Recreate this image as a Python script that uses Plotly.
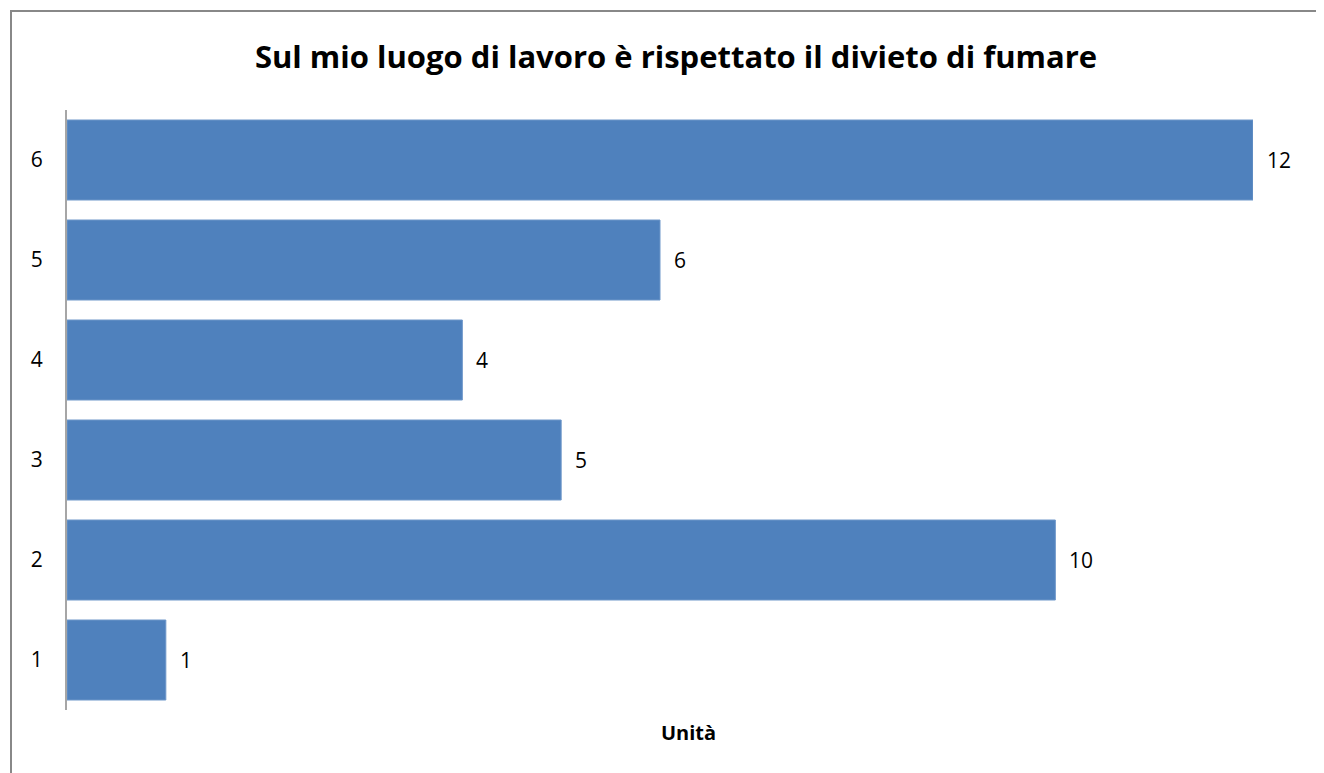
import plotly.graph_objects as go

categories = ["1", "2", "3", "4", "5", "6"]
values = [1, 10, 5, 4, 6, 12]
title_text = "Sul mio luogo di lavoro è rispettato il divieto di fumare"
x_title = "Unità"

OFF = 8  # default page body margin
W, H = 1324 - OFF, 773 - OFF
L, R, T, B = 67 - OFF, 71, 110 - OFF, 63
pw, ph = W - L - R, H - T - B

def px_x(p):
    return (p - OFF - L) / pw

def px_y(p):
    return (H - B - (p - OFF)) / ph

fig = go.Figure()
fig.add_trace(go.Bar(
    x=values, y=categories, orientation="h",
    marker=dict(color="#4F81BD", line=dict(color="#6E97C9", width=1)),
    width=0.8, hoverinfo="x+y",
))

for i, v in enumerate(values):
    fig.add_annotation(x=v, y=i, text=str(v), showarrow=False, xanchor="left",
                       xshift=12, font=dict(size=21, color="#000000", family="Open Sans"))

fig.add_annotation(x=px_x(688), y=px_y(732), xref="paper", yref="paper",
                   xanchor="center", yanchor="middle",
                   text="<b>" + x_title + "</b>", showarrow=False,
                   font=dict(size=20, color="#000000", family="Open Sans"))

fig.add_shape(type="rect", xref="paper", yref="paper",
              x0=px_x(11), y0=px_y(800), x1=px_x(1400), y1=px_y(11),
              line=dict(color="#888888", width=2), fillcolor="rgba(0,0,0,0)", layer="below")

fig.update_layout(
    width=W, height=H,
    margin=dict(l=L, r=R, t=T, b=B, pad=0),
    paper_bgcolor="white", plot_bgcolor="white",
    title=dict(text="<b>" + title_text + "</b>", x=(676 - OFF) / W, xanchor="center",
               y=1 - (57 - OFF) / H, yanchor="middle",
               font=dict(size=31, color="#000000", family="Open Sans")),
    showlegend=False,
    bargap=0.2,
    xaxis=dict(range=[0, 12], showticklabels=False, showgrid=False, zeroline=False,
               showline=False, ticks=""),
    yaxis=dict(categoryorder="array", categoryarray=categories, range=[-0.5, 5.5],
               showgrid=False, zeroline=False, showline=True, linecolor="#A6A6A6",
               linewidth=2, ticks="", ticklabelstandoff=18,
               tickfont=dict(size=21, color="#000000", family="Open Sans")),
)

fig.write_html("out.html")
